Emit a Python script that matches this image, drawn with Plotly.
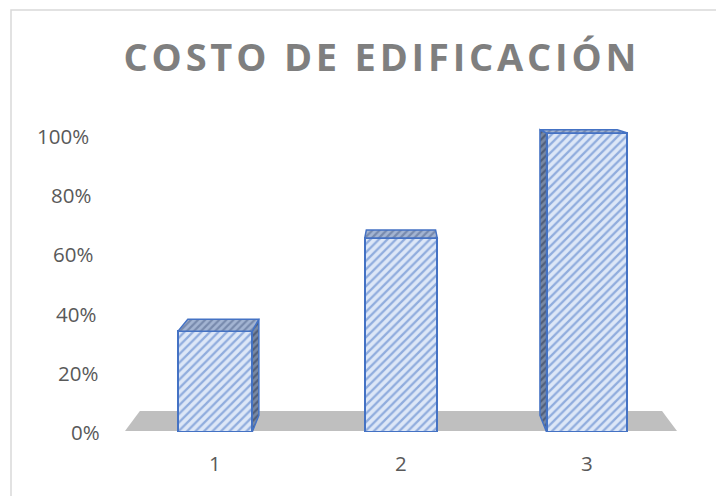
import plotly.graph_objects as go

# --- data -----------------------------------------------------------------
categories = [1, 2, 3]
cost_share = [0.34, 0.655, 1.01]
bar_widths = [0.40, 0.39, 0.435]
y_ticks = [0.0, 0.2, 0.4, 0.6, 0.8, 1.0]
y_tick_text = ["0%", "20%", "40%", "60%", "80%", "100%"]
title_text = "COSTO DE EDIFICACIÓN"

# --- canvas / plot-area geometry (pixels) ----------------------------------
W, H = 716, 496
L, R, T, B = 122, 680, 106, 432
X_RANGE = [0.5, 3.5]
PX_PER_X = (R - L) / (X_RANGE[1] - X_RANGE[0])
PX_PER_Y = 296.0
Y_RANGE = [0.0, (B - T) / PX_PER_Y]

# faux-3D perspective: vanishing point and depth factors
VP = (400.0, 60.0)
K_BAR = 0.045
K_FLOOR = 0.054

FRONT_LINE = "#4472c4"
FRONT_BG = "#dde7f7"
TOP_FG = "#4d6088"
TOP_BG = "#a3b4d2"
SIDE_FG = "#2a3550"
SIDE_BG = "#7888a3"
TEXT = "#595959"


def to_px(x, y):
    return L + (x - X_RANGE[0]) * PX_PER_X, B - y * PX_PER_Y


def to_data(px, py):
    return X_RANGE[0] + (px - L) / PX_PER_X, (B - py) / PX_PER_Y


def recede(p, k):
    return p[0] + k * (VP[0] - p[0]), p[1] + k * (VP[1] - p[1])


def face_trace(points_px, fg, bg):
    pts = [to_data(*p) for p in points_px]
    xs = [p[0] for p in pts] + [pts[0][0]]
    ys = [p[1] for p in pts] + [pts[0][1]]
    return go.Scatter(
        x=xs, y=ys, mode="lines", fill="toself",
        fillcolor=bg,
        fillpattern=dict(shape="/", fgcolor=fg, bgcolor=bg, size=5, solidity=0.45),
        line=dict(color=FRONT_LINE, width=1.5),
        hoverinfo="skip", showlegend=False,
    )


fig = go.Figure()

# front faces of the columns
fig.add_trace(go.Bar(
    x=categories, y=cost_share, width=bar_widths,
    marker=dict(
        color=FRONT_BG,
        line=dict(color=FRONT_LINE, width=2),
        pattern=dict(shape="/", fgcolor=FRONT_LINE, bgcolor=FRONT_BG,
                     size=6, solidity=0.38),
    ),
    hoverinfo="skip", showlegend=False,
))

# receding side and top faces
for c, v, w in zip(categories, cost_share, bar_widths):
    flt = to_px(c - w / 2, v)
    frt = to_px(c + w / 2, v)
    flb = to_px(c - w / 2, 0)
    frb = to_px(c + w / 2, 0)
    if VP[0] > frt[0]:
        side = [frt, recede(frt, K_BAR), recede(frb, K_BAR), frb]
        fig.add_trace(face_trace(side, SIDE_FG, SIDE_BG))
    elif VP[0] < flt[0]:
        side = [flt, recede(flt, K_BAR), recede(flb, K_BAR), flb]
        fig.add_trace(face_trace(side, SIDE_FG, SIDE_BG))
    top = [flt, frt, recede(frt, K_BAR), recede(flt, K_BAR)]
    fig.add_trace(face_trace(top, TOP_FG, TOP_BG))

# floor of the 3D chart
fl = (125.0, 431.0)
fr = (677.0, 431.0)
floor_px = [fl, fr, recede(fr, K_FLOOR), recede(fl, K_FLOOR)]
floor_pts = [to_data(*p) for p in floor_px]
floor_path = "M " + " L ".join(f"{x},{y}" for x, y in floor_pts) + " Z"
shapes = [
    dict(type="path", path=floor_path, xref="x", yref="y",
         fillcolor="#bfbfbf", line=dict(width=0), layer="below"),
    # chart frame
    dict(type="rect", xref="paper", yref="paper",
         x0=(11 - L) / (R - L), x1=(W + 5 - L) / (R - L),
         y0=(B - (H + 5)) / (B - T), y1=(B - 10) / (B - T),
         line=dict(color="#d9d9d9", width=1.5), fillcolor="rgba(0,0,0,0)",
         layer="below"),
]

annotations = []
# value-axis labels, following the slanted back wall
for t, txt in zip(y_ticks, y_tick_text):
    annotations.append(dict(
        x=X_RANGE[0], y=t, xref="x", yref="y", text=txt, showarrow=False,
        xanchor="right", yanchor="middle", xshift=(102 - 11 * t) - L,
        font=dict(family="Open Sans", size=20.5, color=TEXT),
    ))
# category labels
for c in categories:
    annotations.append(dict(
        x=c, y=0, xref="x", yref="y", text=str(c), showarrow=False,
        xanchor="center", yanchor="middle", yshift=-31,
        font=dict(family="Open Sans", size=20.5, color=TEXT),
    ))

# tracked-out heading (hair spaces between letters)
spaced_title = "\u200a".join(title_text)

fig.update_layout(
    width=W, height=H,
    margin=dict(l=L, r=W - R, t=T, b=H - B, pad=0),
    paper_bgcolor="white", plot_bgcolor="white",
    title=dict(text=spaced_title, x=380 / W, xanchor="center",
               y=1 - 58 / H, yanchor="middle", yref="container",
               font=dict(family="Open Sans", size=38, color="#7f7f7f", weight="bold")),
    xaxis=dict(range=X_RANGE, showgrid=False, zeroline=False, showline=False,
               showticklabels=False, ticks=""),
    yaxis=dict(range=Y_RANGE, showgrid=False, zeroline=False, showline=False,
               showticklabels=False, ticks=""),
    shapes=shapes, annotations=annotations,
    bargap=0,
)

fig.write_html("out.html")
